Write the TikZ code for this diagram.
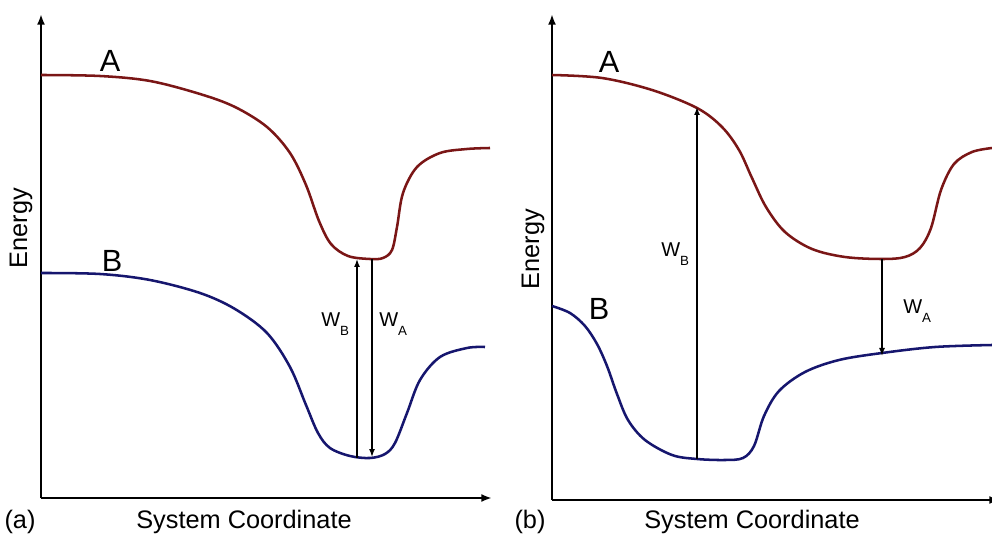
\documentclass[tikz,border=0pt]{standalone}
\usepackage{fontspec}
\setmainfont{Liberation Sans}
\usetikzlibrary{arrows.meta}
\definecolor{curveA}{RGB}{122,22,22}
\definecolor{curveB}{RGB}{22,22,110}
\newcommand{\wsub}[1]{W{\fontsize{10}{10}\selectfont\raisebox{-0.62em}{#1}}}
\begin{document}
\begin{tikzpicture}[x=0.75pt,y=-0.75pt,
  axis/.style={line width=2.2pt,-{Latex[length=8pt,width=6pt]}},
  curvea/.style={line width=1.9pt,curveA},
  curveb/.style={line width=1.9pt,curveB},
  warrow/.style={line width=1.1pt,-{Latex[length=6pt,width=4.5pt]}},
  lbl/.style={font=\fontsize{23}{25}\selectfont,inner sep=0pt},
  axlbl/.style={font=\fontsize{19}{21}\selectfont,inner sep=0pt},
  wlbl/.style={font=\fontsize{15}{17}\selectfont,inner sep=0pt,anchor=base west}]
\useasboundingbox (0,0) rectangle (992,541);
% ---------- panel (a)
\coordinate (oa) at (41,498);
\coordinate (ya) at (41,14);
\coordinate (xa) at (492,498);
\draw[axis] (oa) -- (ya);
\draw[axis] (oa) -- (xa);
\draw[curvea] plot[smooth,tension=0.55] coordinates {(41,75) (100,76) (150,81) (200,94) (235,107) (267,127) (290,153) (306,185) (319,221) (331,244) (348,256) (370,259) (383,258) (392,250) (397,227) (403,193) (417,167) (440,153) (467,149) (490,148)};
\draw[curveb] plot[smooth,tension=0.55] coordinates {(41,273) (100,274) (150,280) (200,293) (235,309) (267,333) (290,367) (306,405) (318,433) (330,448) (350,456) (370,458) (385,454) (395,443) (407,413) (420,380) (440,357) (467,348) (485,347)};
\coordinate (wbb) at (357,458);
\coordinate (wbt) at (357,259);
\coordinate (wat) at (372,259);
\coordinate (wab) at (372,457);
\draw[warrow] (wbb) -- (wbt);
\draw[warrow] (wat) -- (wab);
\node[wlbl] (wBa) at (321,327) {\wsub{B}};
\node[wlbl] (wAa) at (379,327) {\wsub{A}};
\node[lbl] (Aa) at (110,61) {A};
\node[lbl] (Ba) at (112,261) {B};
\node[axlbl,rotate=90] (Ea) at (21,228) {Energy};
\node[axlbl] (Sa) at (244,522) {System Coordinate};
\node[axlbl] (pa) at (20,522) {(a)};
% ---------- panel (b)
\coordinate (ob) at (552,500);
\coordinate (yb) at (552,14);
\coordinate (xb) at (1000,500);
\draw[axis] (ob) -- (yb);
\draw[axis] (ob) -- (xb);
\draw[curvea] plot[smooth,tension=0.55] coordinates {(552,75) (602,78) (652,90) (697,108) (722,127) (739,150) (752,178) (766,207) (785,232) (812,249) (845,257) (882,259) (905,257) (920,248) (931,228) (941,190) (954,164) (972,152) (992,148)};
\draw[curveb] plot[smooth,tension=0.55] coordinates {(552,306) (570,313) (585,326) (597,344) (607,366) (617,394) (628,420) (645,440) (672,455) (697,459) (725,460) (743,458) (754,446) (764,416) (779,391) (805,372) (839,360) (882,353) (935,347) (992,345)};
\coordinate (wbb2) at (697,459);
\coordinate (wbt2) at (697,107);
\coordinate (wat2) at (882,259);
\coordinate (wab2) at (882,356);
\draw[warrow] (wbb2) -- (wbt2);
\draw[warrow] (wat2) -- (wab2);
\node[wlbl] (wBb) at (661,257) {\wsub{B}};
\node[wlbl] (wAb) at (903,314) {\wsub{A}};
\node[lbl] (Ab) at (609,62) {A};
\node[lbl] (Bb) at (599,309) {B};
\node[axlbl,rotate=90] (Eb) at (533,249) {Energy};
\node[axlbl] (Sb) at (752,522) {System Coordinate};
\node[axlbl] (pb) at (530,522) {(b)};
\end{tikzpicture}
\end{document}
